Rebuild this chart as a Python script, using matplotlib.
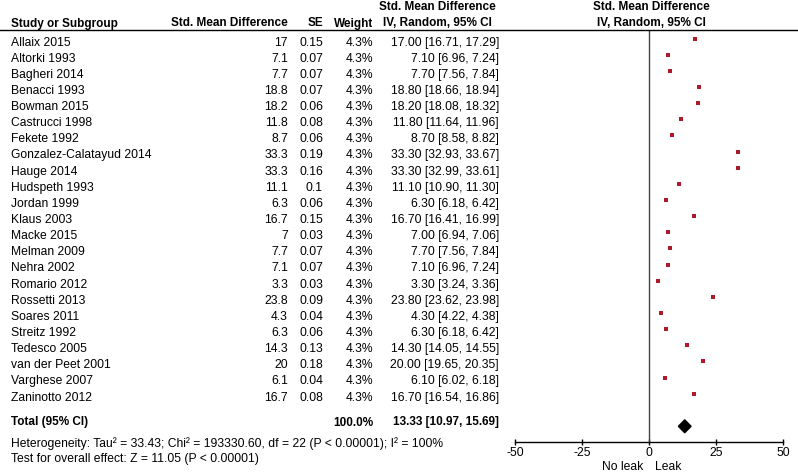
import matplotlib
matplotlib.use("Agg")
import matplotlib.pyplot as plt
from matplotlib.transforms import blended_transform_factory, offset_copy
from matplotlib.patches import Polygon

plt.rcParams['font.family'] = ['Liberation Sans', 'DejaVu Sans']

studies = ["Allaix 2015", "Altorki 1993", "Bagheri 2014", "Benacci 1993", "Bowman 2015",
           "Castrucci 1998", "Fekete 1992", "Gonzalez-Calatayud 2014", "Hauge 2014",
           "Hudspeth 1993", "Jordan 1999", "Klaus 2003", "Macke 2015", "Melman 2009",
           "Nehra 2002", "Romario 2012", "Rossetti 2013", "Soares 2011", "Streitz 1992",
           "Tedesco 2005", "van der Peet 2001", "Varghese 2007", "Zaninotto 2012"]
smd = [17, 7.1, 7.7, 18.8, 18.2, 11.8, 8.7, 33.3, 33.3, 11.1, 6.3, 16.7, 7, 7.7, 7.1,
       3.3, 23.8, 4.3, 6.3, 14.3, 20, 6.1, 16.7]
se = [0.15, 0.07, 0.07, 0.07, 0.06, 0.08, 0.06, 0.19, 0.16, 0.1, 0.06, 0.15, 0.03, 0.07,
      0.07, 0.03, 0.09, 0.04, 0.06, 0.13, 0.18, 0.04, 0.08]
weight = [4.3] * 23
ci_lo = [16.71, 6.96, 7.56, 18.66, 18.08, 11.64, 8.58, 32.93, 32.99, 10.90, 6.18, 16.41,
         6.94, 7.56, 6.96, 3.24, 23.62, 4.22, 6.18, 14.05, 19.65, 6.02, 16.54]
ci_hi = [17.29, 7.24, 7.84, 18.94, 18.32, 11.96, 8.82, 33.67, 33.61, 11.30, 6.42, 16.99,
         7.06, 7.84, 7.24, 3.36, 23.98, 4.38, 6.42, 14.55, 20.35, 6.18, 16.86]
total_est, total_lo, total_hi = 13.33, 10.97, 15.69
total_weight = 100.0
xticks = [-50, -25, 0, 25, 50]
heterogeneity = "Heterogeneity: Tau² = 33.43; Chi² = 193330.60, df = 22 (P < 0.00001); I² = 100%"
overall = "Test for overall effect: Z = 11.05 (P < 0.00001)"

W, H = 798, 472
fig = plt.figure(figsize=(W / 100, H / 100), dpi=100)

# forest axes placement (pixels)
ax_l, ax_r, ax_top, ax_bot = 515, 783, 30, 442.3
ax = fig.add_axes([ax_l / W, 1 - ax_bot / H, (ax_r - ax_l) / W, (ax_bot - ax_top) / H])
row_h = 16.14
y0 = 38.6
def row_of(p):
    return (p - y0) / row_h
ax.set_xlim(-50, 50)
ax.set_ylim(row_of(ax_bot), row_of(ax_top))
for s in ['top', 'left', 'right']:
    ax.spines[s].set_visible(False)
ax.spines['bottom'].set_linewidth(1.0)
ax.set_yticks([])
ax.set_xticks(xticks)
ax.set_xticklabels([str(t) for t in xticks])
fs = 8.7
fsb = 8.5
ax.tick_params(axis='x', direction='inout', length=4.6, width=1.0, labelsize=fs, pad=1.0)
ax.axvline(0, color='#444444', lw=1.0)

rows = list(range(len(studies)))
red = '#B0182C'
ax.hlines(rows, ci_lo, ci_hi, color=red, lw=0.8)
ax.plot(smd, rows, 's', color=red, ms=2.6, mec=red, mew=0)

ytot = row_of(426.3)
dh = 0.40
diamond = Polygon([[total_lo, ytot], [total_est, ytot - dh], [total_hi, ytot], [total_est, ytot + dh]],
                  closed=True, color='black')
ax.add_patch(diamond)

# Text columns: x in figure fraction, y in forest rows, baseline shifted below marker row
def px(x):
    return x / W
trans0 = blended_transform_factory(fig.transFigure, ax.transData)
trans = offset_copy(trans0, fig=fig, y=-6.9, units='dots')
kw = dict(transform=trans, fontsize=fs, va='baseline')
for i, name in enumerate(studies):
    fig.text(px(11), i, name, ha='left', **kw)
    fig.text(px(288), i, format(smd[i], 'g'), ha='right', **kw)
    fig.text(px(323), i, format(se[i], 'g'), ha='right', **kw)
    fig.text(px(373), i, f"{weight[i]:.1f}%", ha='right', **kw)
    fig.text(px(499), i, f"{smd[i]:.2f} [{ci_lo[i]:.2f}, {ci_hi[i]:.2f}]", ha='right', **kw)

def fy(p):
    return 1 - p / H
kb = dict(fontsize=fsb, va='baseline', weight='bold')
fig.text(px(11), fy(425.5), "Total (95% CI)", ha='left', **kb)
fig.text(px(373), fy(425.5), f"{total_weight:.1f}%", ha='right', **kb)
fig.text(px(499), fy(425.5), f"{total_est:.2f} [{total_lo:.2f}, {total_hi:.2f}]", ha='right', **kb)

fig.text(px(11), fy(446.5), heterogeneity, fontsize=fs, va='baseline', ha='left')
fig.text(px(11), fy(462), overall, fontsize=fs, va='baseline', ha='left')

# headers
fig.text(px(11), fy(26.5), "Study or Subgroup", ha='left', **kb)
fig.text(px(288), fy(26.5), "Std. Mean Difference", ha='right', **kb)
fig.text(px(323), fy(26.5), "SE", ha='right', **kb)
fig.text(px(373), fy(26.5), "Weight", ha='right', **kb)
fig.text(px(437), fy(10), "Std. Mean Difference", ha='center', **kb)
fig.text(px(437), fy(26.5), "IV, Random, 95% CI", ha='center', **kb)
fig.text(px(651), fy(10), "Std. Mean Difference", ha='center', **kb)
fig.text(px(651), fy(26.5), "IV, Random, 95% CI", ha='center', **kb)

fig.add_artist(plt.Line2D([0, px(797)], [fy(29.5), fy(29.5)], color='black', lw=1.0))

fig.text(px(623), fy(470.5), "No leak", fontsize=fs, va='baseline', ha='center')
fig.text(px(668), fy(470.5), "Leak", fontsize=fs, va='baseline', ha='center')

fig.savefig("out.png", dpi=100)
